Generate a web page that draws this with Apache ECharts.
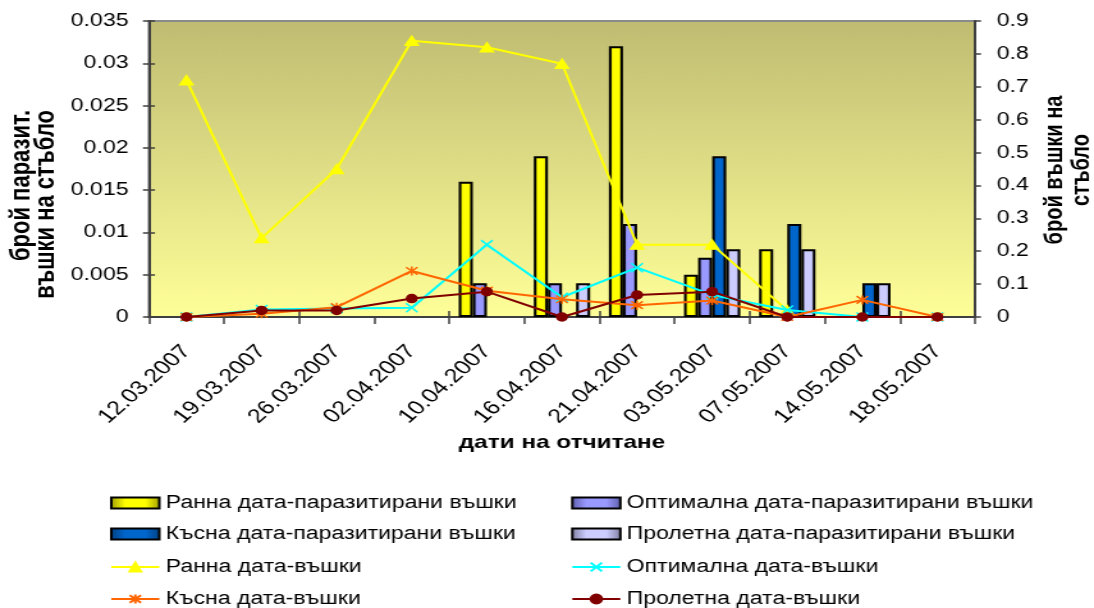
<!DOCTYPE html>
<html>
<head>
<meta charset="utf-8">
<script src="https://cdn.jsdelivr.net/npm/echarts@6/dist/echarts.min.js"></script>
<style>
  html, body { margin: 0; padding: 0; background: #ffffff; overflow: hidden; }
  /* the chart is laid out narrow and widened, giving the broad lettering of the figure */
  #chart { width: 855px; height: 608px; transform: scaleX(1.27953); transform-origin: 0 0; }
</style>
</head>
<body>
<div id="chart"></div>
<script>
// reading dates
const dates = ['12.03.2007', '19.03.2007', '26.03.2007', '02.04.2007', '10.04.2007', '16.04.2007',
               '21.04.2007', '03.05.2007', '07.05.2007', '14.05.2007', '18.05.2007'];

// parasitized aphids per stem (left axis)
const parasEarly   = [null, null, null, null, 0.016, 0.019, 0.032, 0.005, 0.008, null, null];
const parasOptimal = [null, null, null, null, 0.004, 0.004, 0.011, 0.007, null, null, null];
const parasLate    = [null, null, null, null, null, null, null, 0.019, 0.011, 0.004, null];
const parasSpring  = [null, null, null, null, null, 0.004, null, 0.008, 0.008, 0.004, null];

// aphids per stem (right axis)
const aphidsEarly   = [0.72, 0.24, 0.45, 0.84, 0.82, 0.77, 0.22, 0.22, 0.02, null, null];
const aphidsOptimal = [0, 0.023, 0.026, 0.028, 0.22, 0.06, 0.15, 0.067, 0.021, 0, 0];
const aphidsLate    = [0, 0.01, 0.03, 0.14, 0.08, 0.054, 0.036, 0.05, 0, 0.052, 0];
const aphidsSpring  = [0, 0.02, 0.02, 0.056, 0.077, 0, 0.067, 0.077, 0, 0, 0];

// axis scales
const leftMax = 0.035, leftStep = 0.005;
const rightMax = 0.9, rightStep = 0.1;

const FONT = '"Liberation Sans", Arial, sans-serif';
const G = echarts.graphic;

function barFill(edge, mid) {
  return new G.LinearGradient(0, 0, 1, 0, [
    { offset: 0, color: edge }, { offset: 0.3, color: mid },
    { offset: 0.7, color: mid }, { offset: 1, color: edge }
  ]);
}

function barSeries(name, data, edge, mid) {
  return {
    name, type: 'bar', yAxisIndex: 0, data,
    barGap: '0%', barCategoryGap: '25%',
    itemStyle: { color: barFill(edge, mid), borderColor: '#000000', borderWidth: 2 }
  };
}

function lineSeries(name, data, color, symbol, size, z) {
  return {
    name, type: 'line', yAxisIndex: 1, data, z,
    symbol, symbolSize: size, showAllSymbol: true,
    lineStyle: { color, width: 2 },
    itemStyle: { color, borderColor: color, borderWidth: 1.5 }
  };
}

const X_MARK = 'path://M0,0L10,10M10,0L0,10';
const STAR_MARK = 'path://M0,0L10,10M10,0L0,10M5,-1L5,11';

const nameEarlyP = 'Ранна дата-паразитирани въшки';
const nameOptP = 'Оптимална дата-паразитирани въшки';
const nameLateP = 'Късна дата-паразитирани въшки';
const nameSpringP = 'Пролетна дата-паразитирани въшки';
const nameEarly = 'Ранна дата-въшки';
const nameOpt = 'Оптимална дата-въшки';
const nameLate = 'Късна дата-въшки';
const nameSpring = 'Пролетна дата-въшки';

// legend: two columns of four entries
const legendCols = [86, 446.3];
const legendRows = [494, 525, 558, 590];
const legendItems = [
  [{ name: nameEarlyP, icon: 'rect' }, { name: nameOptP, icon: 'rect' }],
  [{ name: nameLateP, icon: 'rect' }, { name: nameSpringP, icon: 'rect' }],
  [nameEarly, nameOpt],
  [nameLate, nameSpring]
];
const legends = [];
legendItems.forEach((row, r) => row.forEach((item, c) => {
  legends.push({
    left: legendCols[c], top: legendRows[r], padding: 0, orient: 'horizontal',
    itemWidth: 37.5, itemHeight: 11, itemGap: 0, selectedMode: false,
    textStyle: { fontFamily: FONT, fontSize: 18, color: '#000', lineHeight: 16 },
    data: [item]
  });
}));

const chart = echarts.init(document.getElementById('chart'), null, { renderer: 'canvas' });

chart.setOption({
  backgroundColor: '#ffffff',
  animation: false,
  textStyle: { fontFamily: FONT },
  grid: {
    left: 116.4, right: 93, top: 21, bottom: 291, show: true,
    borderColor: '#8a8a8a', borderWidth: 2,
    backgroundColor: new G.LinearGradient(0, 0, 0, 1, [
      { offset: 0, color: '#BFBC72' }, { offset: 1, color: '#FFFF99' }
    ])
  },
  legend: legends,
  xAxis: [{
    type: 'category', data: dates, position: 'bottom',
    axisLine: { lineStyle: { color: '#404040', width: 2 } },
    axisTick: { show: true, length: 7, lineStyle: { color: '#404040', width: 1.5 } },
    axisLabel: { interval: 0, rotate: 48, margin: 31, fontSize: 19.5, color: '#000', fontFamily: FONT },
    name: 'дати на отчитане', nameLocation: 'middle', nameGap: 116,
    nameTextStyle: { fontFamily: FONT, fontSize: 19, fontWeight: 'bold', color: '#000' }
  }, {
    type: 'category', data: dates, position: 'bottom',
    axisLine: { show: false },
    axisTick: { show: true, inside: true, length: 6, lineStyle: { color: '#404040', width: 1.5 } },
    axisLabel: { show: false }
  }],
  yAxis: [{
    type: 'value', position: 'left', min: 0, max: leftMax, interval: leftStep,
    splitLine: { show: false },
    axisLine: { show: true, lineStyle: { color: '#404040', width: 2 } },
    axisTick: { show: true, length: 4.7, lineStyle: { color: '#404040', width: 1.5 } },
    axisLabel: { margin: 16, fontSize: 18, color: '#000', fontFamily: FONT,
      formatter: v => String(+v.toFixed(3)) }
  }, {
    type: 'value', position: 'right', min: 0, max: rightMax, interval: rightStep,
    splitLine: { show: false },
    axisLine: { show: true, lineStyle: { color: '#404040', width: 2 } },
    axisTick: { show: true, length: 4.7, lineStyle: { color: '#404040', width: 1.5 } },
    axisLabel: { margin: 17, fontSize: 18, color: '#000', fontFamily: FONT,
      formatter: v => String(+v.toFixed(1)) }
  }, {
    type: 'value', position: 'left', min: 0, max: leftMax, interval: leftStep,
    splitLine: { show: false }, axisLine: { show: false },
    axisTick: { show: true, inside: true, length: 4.7, lineStyle: { color: '#404040', width: 1.5 } },
    axisLabel: { show: false }
  }],
  graphic: [{
    type: 'text', x: 26.6, y: 110, rotation: Math.PI / 2,
    style: {
      text: 'брой паразит.\nвъшки на стъбло', font: 'bold 22px ' + FONT, fill: '#000',
      align: 'right', verticalAlign: 'middle', lineHeight: 19
    }
  }, {
    type: 'text', x: 835, y: 170, rotation: Math.PI / 2,
    style: {
      text: 'брой въшки на\nстъбло', font: 'bold 20px ' + FONT, fill: '#000',
      align: 'center', verticalAlign: 'middle', lineHeight: 21
    }
  }],
  series: [
    barSeries(nameEarlyP, parasEarly, '#9A9A00', '#FFFF00'),
    barSeries(nameOptP, parasOptimal, '#5C5CA8', '#9999FF'),
    barSeries(nameLateP, parasLate, '#003F80', '#0066CC'),
    barSeries(nameSpringP, parasSpring, '#7E7E9E', '#CCCCFF'),
    lineSeries(nameEarly, aphidsEarly, '#FFFF00', 'triangle', [10, 9], 5),
    lineSeries(nameOpt, aphidsOptimal, '#00FFFF', X_MARK, [9, 9], 6),
    lineSeries(nameLate, aphidsLate, '#FF6600', STAR_MARK, [9, 9], 7),
    lineSeries(nameSpring, aphidsSpring, '#800000', 'circle', 8, 8)
  ]
});
</script>
</body>
</html>
